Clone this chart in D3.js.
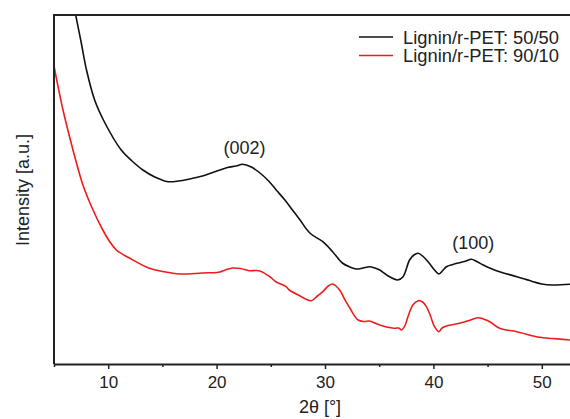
<!DOCTYPE html>
<html lang="en">
<head>
    <meta charset="utf-8">
    <title>XRD Lignin/r-PET</title>
    <style>
        body { margin: 0; background: #fff; }
        svg text { font-family: Arial, "Liberation Sans", sans-serif; fill: #222; }
    </style>
</head>
<body>
    <svg id="chart" width="570" height="419"></svg>
    <script src="https://cdn.jsdelivr.net/npm/d3@7/dist/d3.min.js"></script>
    <script>
        // 2theta (deg) and intensity (a.u.)
        var theta5050 = [6.6, 7.0, 7.5, 8.0, 8.75, 9.7, 11.2, 12.2, 13.2, 14.3, 15.4, 16.5, 17.5, 18.7, 19.5, 20.3, 21.0, 21.8, 22.4, 23.2, 24.0, 24.8, 25.5, 26.3, 27.0, 27.7, 28.6, 29.8, 30.7, 31.6, 32.3, 32.9, 33.5, 34.1, 34.6, 35.05, 35.5, 36.0, 36.7, 37.2, 37.8, 38.2, 38.6, 39.1, 39.6, 40.1, 40.5, 40.9, 41.2, 41.8, 42.4, 43.0, 43.5, 44.0, 44.6, 45.3, 46.1, 47.7, 49.2, 50.0, 51.0, 52.6];
        var int5050 = [372, 349, 322, 294, 264, 241, 214, 203, 194, 187, 182.5, 183, 185, 188, 191, 194, 196.5, 198, 199.7, 197, 191, 183, 174, 164, 154, 144, 131, 122.3, 112.3, 101, 97, 95, 96, 97.3, 96, 94, 90.5, 87, 84, 87.3, 104, 109, 110.7, 107, 101, 94, 90, 94, 97.3, 99.5, 101.3, 103, 104.7, 102.5, 99, 95.5, 92.3, 87.3, 82.3, 80, 79, 79.7];

        var theta9010 = [5.0, 5.4, 5.83, 6.3, 6.75, 7.2, 7.7, 8.6, 9.5, 10.1, 10.75, 12.0, 13.8, 15.1, 16.6, 18.7, 20.0, 20.3, 20.8, 21.5, 22.2, 23.0, 23.6, 24.0, 24.9, 25.5, 26.4, 26.7, 27.7, 28.2, 28.75, 29.3, 29.8, 30.3, 30.7, 31.35, 31.8, 32.3, 33.05, 33.6, 34.1, 34.7, 35.35, 36.4, 36.8, 37.05, 37.4, 37.65, 38.1, 38.6, 39.0, 39.35, 39.7, 40.1, 40.5, 40.8, 41.2, 42.4, 43.3, 44.1, 44.6, 45.2, 46.1, 47.7, 49.8, 51.0, 52.6];
        var int9010 = [298, 276, 254, 233, 214, 196, 178, 154, 134, 123, 114, 105.7, 95.7, 92.3, 90, 91, 91.5, 92, 94, 96, 95.5, 93.3, 93.5, 93, 87.3, 82, 77.3, 74, 68, 65, 63.3, 68, 72.3, 78, 80, 74, 65, 55.7, 44, 42.5, 43, 40.5, 38, 35.7, 36, 34, 39, 47.3, 59, 63.3, 62, 57.3, 49, 37.3, 32.3, 36, 38, 40.7, 43.5, 46.3, 45, 42.3, 35.7, 32.3, 26.7, 25.5, 24];

        var seriesNames = ["Lignin/r-PET: 50/50", "Lignin/r-PET: 90/10"];
        var seriesColors = ["#111111", "#ee1c1c"];
        var majorTicks = [10, 20, 30, 40, 50];
        var minorTicks = [5, 15, 25, 35, 45];
        var peakLabels = ["(002)", "(100)"];
        var peakPos = [22.4, 43.5];
        var peakInt = [199.7, 104.7];

        var plotLeft = 54, plotTop = 15, plotRight = 570, plotBottom = 364;
        var svg = d3.select("#chart");

        var x = d3.scaleLinear().domain([5, 52.6]).range([plotLeft, plotRight]);
        var y = d3.scaleLinear().domain([0, 349]).range([plotBottom, plotTop]);

        svg.append("clipPath").attr("id", "clip")
            .append("rect")
            .attr("x", plotLeft).attr("y", plotTop)
            .attr("width", plotRight - plotLeft).attr("height", plotBottom - plotTop);

        var line = d3.line()
            .x(function(d) { return x(d[0]); })
            .y(function(d) { return y(d[1]); })
            .curve(d3.curveCatmullRom.alpha(0.5));

        var series = [d3.zip(theta5050, int5050), d3.zip(theta9010, int9010)];

        svg.append("g").attr("clip-path", "url(#clip)")
            .selectAll("path")
            .data(series)
            .enter()
            .append("path")
            .attr("fill", "none")
            .attr("stroke", function(d, i) { return seriesColors[i]; })
            .attr("stroke-width", 1.6)
            .attr("d", line);

        // frame: left and top lines
        svg.append("path")
            .attr("d", "M" + plotLeft + "," + plotBottom + "V" + plotTop + "H" + plotRight)
            .attr("fill", "none")
            .attr("stroke", "#222")
            .attr("stroke-width", 2);

        // bottom axis
        var xAxis = d3.axisBottom(x)
            .tickValues(majorTicks)
            .tickSize(5)
            .tickPadding(7)
            .tickSizeOuter(0);
        var gx = svg.append("g")
            .attr("transform", "translate(0," + plotBottom + ")")
            .call(xAxis);
        gx.select(".domain").attr("stroke", "#222").attr("stroke-width", 2);
        gx.selectAll(".tick line").attr("stroke", "#222").attr("stroke-width", 1.5);
        gx.selectAll(".tick text")
            .attr("font-size", "17px")
            .attr("font-family", "Arial, 'Liberation Sans', sans-serif")
            .attr("fill", "#222");

        var gMinor = svg.append("g")
            .attr("transform", "translate(0," + plotBottom + ")")
            .call(d3.axisBottom(x).tickValues(minorTicks).tickSize(3).tickFormat("").tickSizeOuter(0));
        gMinor.select(".domain").remove();
        gMinor.selectAll(".tick line").attr("stroke", "#222").attr("stroke-width", 1.5);

        // axis titles
        svg.append("text")
            .attr("x", 320).attr("y", 413)
            .attr("text-anchor", "middle")
            .attr("font-size", "18px")
            .text("2θ [°]");

        svg.append("text")
            .attr("transform", "translate(29,190) rotate(-90)")
            .attr("text-anchor", "middle")
            .attr("font-size", "18px")
            .text("Intensity [a.u.]");

        // peak labels
        svg.selectAll("text.peak")
            .data(peakLabels)
            .enter()
            .append("text")
            .attr("class", "peak")
            .attr("x", function(d, i) { return x(peakPos[i]) + 2; })
            .attr("y", function(d, i) { return y(peakInt[i]) - 10; })
            .attr("text-anchor", "middle")
            .attr("font-size", "18px")
            .text(function(d) { return d; });

        // legend
        var legend = svg.append("g").selectAll("g")
            .data(seriesNames)
            .enter()
            .append("g")
            .attr("transform", function(d, i) { return "translate(359," + (37 + i * 18.5) + ")"; });
        legend.append("line")
            .attr("x1", 0).attr("x2", 34)
            .attr("stroke", function(d, i) { return seriesColors[i]; })
            .attr("stroke-width", 1.6);
        legend.append("text")
            .attr("x", 44).attr("y", 6.5)
            .attr("font-size", "18px")
            .attr("textLength", 156)
            .attr("lengthAdjust", "spacingAndGlyphs")
            .text(function(d) { return d; });
    </script>
</body>
</html>
